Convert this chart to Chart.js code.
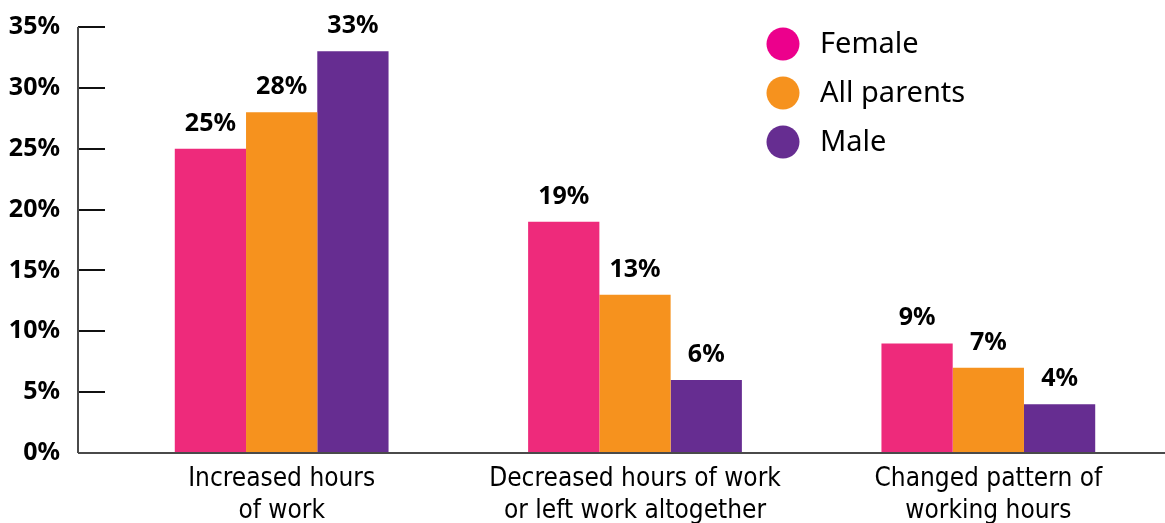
<!DOCTYPE html>
<html>
<head>
<meta charset="utf-8">
<script src="https://cdn.jsdelivr.net/npm/chart.js@4/dist/chart.umd.min.js"></script>
<style>
  html, body { margin: 0; padding: 0; background: #ffffff; }
  #wrap { width: 1165px; height: 523px; }
</style>
</head>
<body>
<div id="wrap"><canvas id="chart" width="1165" height="523"></canvas></div>
<script>
// Categories (two-line labels) and series values, in percent
const categories = [
  ["Increased hours", "of work"],
  ["Decreased hours of work", "or left work altogether"],
  ["Changed pattern of", "working hours"]
];
const seriesNames = ["Female", "All parents", "Male"];
const femaleValues = [25, 19, 9];
const allParentsValues = [28, 13, 7];
const maleValues = [33, 6, 4];
const yTickValues = [0, 5, 10, 15, 20, 25, 30, 35];

const barColors = ["#EE2A7B", "#F6921E", "#662D91"];
const legendColors = ["#EC008C", "#F6921E", "#662D91"];

const boldFont = '"Noto Sans", "Open Sans", sans-serif';
const narrowFont = '"Liberation Sans Narrow", "DejaVu Sans Condensed", sans-serif';
const TICK_LEN = 27;

// Axis lines: vertical line at the outer end of the y ticks, baseline across the full width
const axisLines = {
  id: 'axisLines',
  afterDatasetsDraw(chart) {
    const { ctx, chartArea, scales } = chart;
    const x0 = chartArea.left - TICK_LEN;
    const yTop = scales.y.getPixelForValue(yTickValues[yTickValues.length - 1]);
    const yBase = scales.y.getPixelForValue(0);
    ctx.save();
    ctx.strokeStyle = '#4a4a4a';
    ctx.lineWidth = 2;
    ctx.beginPath();
    ctx.moveTo(x0, yTop);
    ctx.lineTo(x0, yBase);
    ctx.moveTo(x0, yBase);
    ctx.lineTo(chart.width, yBase);
    ctx.stroke();
    ctx.restore();
  }
};

// Percentage labels above each bar
const valueLabels = {
  id: 'valueLabels',
  afterDatasetsDraw(chart) {
    const { ctx } = chart;
    ctx.save();
    ctx.font = 'bold 25px ' + boldFont;
    ctx.fillStyle = '#000000';
    ctx.textAlign = 'center';
    ctx.textBaseline = 'alphabetic';
    chart.data.datasets.forEach((ds, di) => {
      const meta = chart.getDatasetMeta(di);
      meta.data.forEach((bar, i) => {
        ctx.fillText(ds.data[i] + '%', bar.x, bar.y - 18);
      });
    });
    ctx.restore();
  }
};

// Legend with round markers in the upper right of the plot
const circleLegend = {
  id: 'circleLegend',
  afterDraw(chart) {
    const { ctx } = chart;
    const cx = chart.width - 382;
    const y0 = 44;
    const step = 49;
    ctx.save();
    ctx.font = '29px ' + boldFont;
    ctx.textAlign = 'left';
    ctx.textBaseline = 'middle';
    chart.data.datasets.forEach((ds, i) => {
      const cy = y0 + i * step;
      ctx.fillStyle = legendColors[i];
      ctx.beginPath();
      ctx.arc(cx, cy, 16.5, 0, Math.PI * 2);
      ctx.fill();
      ctx.fillStyle = '#000000';
      ctx.fillText(ds.label, cx + 37, cy + 1);
    });
    ctx.restore();
  }
};

new Chart(document.getElementById('chart'), {
  type: 'bar',
  data: {
    labels: categories,
    datasets: [
      { label: seriesNames[0], data: femaleValues, backgroundColor: barColors[0] },
      { label: seriesNames[1], data: allParentsValues, backgroundColor: barColors[1] },
      { label: seriesNames[2], data: maleValues, backgroundColor: barColors[2] }
    ]
  },
  options: {
    responsive: false,
    animation: false,
    devicePixelRatio: 1,
    layout: { padding: { top: 27, right: 0, left: 0, bottom: 0 } },
    datasets: { bar: { categoryPercentage: 0.605, barPercentage: 1.0, borderWidth: 0 } },
    plugins: {
      legend: { display: false },
      tooltip: { enabled: false }
    },
    scales: {
      x: {
        grid: { display: false, drawTicks: false },
        border: { display: false },
        ticks: {
          color: '#000000',
          padding: 11,
          maxRotation: 0,
          autoSkip: false,
          font: { family: narrowFont, size: 26, lineHeight: 1.2 }
        },
        afterFit(scale) { scale.height = 70; }
      },
      y: {
        min: 0,
        max: 35,
        afterBuildTicks(scale) { scale.ticks = yTickValues.map(v => ({ value: v })); },
        grid: {
          drawOnChartArea: false,
          drawTicks: true,
          tickLength: TICK_LEN,
          color: '#111111',
          lineWidth: 2
        },
        border: { display: false },
        ticks: {
          color: '#000000',
          padding: 18,
          font: { family: boldFont, size: 25, weight: 'bold' },
          callback: v => v + '%'
        },
        afterFit(scale) {
          scale.width = 105;
          scale.paddingTop = 0;
          scale.paddingBottom = 0;
        }
      }
    }
  },
  plugins: [axisLines, valueLabels, circleLegend]
});
</script>
</body>
</html>
